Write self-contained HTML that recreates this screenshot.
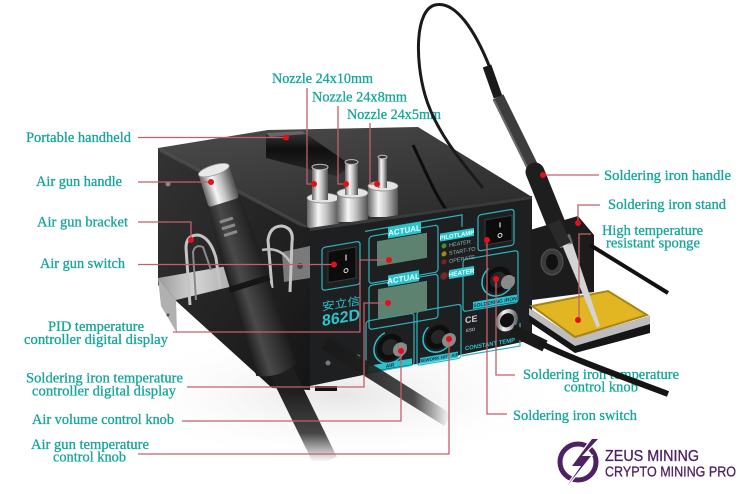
<!DOCTYPE html>
<html><head><meta charset="utf-8">
<style>
html,body{margin:0;padding:0;background:#fff;}
svg{display:block;}
.lb{font-family:"Liberation Serif",serif;font-size:14.5px;fill:#17a59a;stroke:#17a59a;stroke-width:0.3px;}
.ln{fill:none;stroke:#c4606a;stroke-width:1.3;}
.dt{fill:#e3101c;}
.pt{font-family:"Liberation Sans",sans-serif;font-weight:bold;}
</style></head><body>
<svg width="750" height="494" viewBox="0 0 750 494" xmlns="http://www.w3.org/2000/svg">
<defs>
 <linearGradient id="silver" x1="0" x2="1" y1="0" y2="0">
  <stop offset="0" stop-color="#666"/>
  <stop offset="0.35" stop-color="#f6f6f6"/>
  <stop offset="0.6" stop-color="#c4c4c4"/>
  <stop offset="1" stop-color="#505050"/>
 </linearGradient>
 <linearGradient id="topg" x1="0" y1="0" x2="0.6" y2="1">
  <stop offset="0" stop-color="#4c4c4c"/>
  <stop offset="1" stop-color="#2c2c2c"/>
 </linearGradient>
 <linearGradient id="groove" x1="0" y1="0" x2="0" y2="1">
  <stop offset="0" stop-color="#3a3a3a"/>
  <stop offset="0.4" stop-color="#0e0e0e"/>
  <stop offset="1" stop-color="#2a2a2a"/>
 </linearGradient>
 <linearGradient id="sideg" x1="0" y1="0" x2="1" y2="1">
  <stop offset="0" stop-color="#333"/>
  <stop offset="1" stop-color="#151515"/>
 </linearGradient>
 <linearGradient id="gunbody" x1="0" x2="1">
  <stop offset="0" stop-color="#1a1a1a"/>
  <stop offset="0.35" stop-color="#4a4a4a"/>
  <stop offset="1" stop-color="#1c1c1c"/>
 </linearGradient>
 <linearGradient id="cablefade" gradientUnits="userSpaceOnUse" x1="0" y1="390" x2="0" y2="462">
  <stop offset="0" stop-color="#1e1e1e"/>
  <stop offset="0.6" stop-color="#262626" stop-opacity="0.85"/>
  <stop offset="1" stop-color="#303030" stop-opacity="0"/>
 </linearGradient>
 <linearGradient id="bandfade" gradientUnits="userSpaceOnUse" x1="330" y1="0" x2="450" y2="0">
  <stop offset="0" stop-color="#1a1a1a"/>
  <stop offset="0.7" stop-color="#222" stop-opacity="0.8"/>
  <stop offset="1" stop-color="#333" stop-opacity="0"/>
 </linearGradient>
 <radialGradient id="floor" cx="0.5" cy="0.5" r="0.5">
  <stop offset="0" stop-color="#e6e6e6"/>
  <stop offset="1" stop-color="#ffffff" stop-opacity="0"/>
 </radialGradient>
 <linearGradient id="plate" x1="0" x2="1">
  <stop offset="0" stop-color="#9a9a9a"/>
  <stop offset="0.4" stop-color="#d4d4d4"/>
  <stop offset="1" stop-color="#9a9a9a"/>
 </linearGradient>
</defs>

<rect width="750" height="494" fill="#fff"/>
<ellipse cx="340" cy="395" rx="230" ry="70" fill="url(#floor)"/>

<!-- ===== Labels (left) ===== -->
<text class="lb" x="272" y="83" textLength="101" lengthAdjust="spacingAndGlyphs">Nozzle 24x10mm</text>
<text class="lb" x="312" y="101.5" textLength="95" lengthAdjust="spacingAndGlyphs">Nozzle 24x8mm</text>
<text class="lb" x="347" y="119" textLength="94" lengthAdjust="spacingAndGlyphs">Nozzle 24x5mm</text>
<text class="lb" x="26" y="142" textLength="105" lengthAdjust="spacingAndGlyphs">Portable handheld</text>
<text class="lb" x="36" y="186" textLength="86" lengthAdjust="spacingAndGlyphs">Air gun handle</text>
<text class="lb" x="37" y="226.5" textLength="91" lengthAdjust="spacingAndGlyphs">Air gun bracket</text>
<text class="lb" x="40" y="268" textLength="85" lengthAdjust="spacingAndGlyphs">Air gun switch</text>
<text class="lb" x="48" y="331" textLength="96" lengthAdjust="spacingAndGlyphs">PID temperature</text>
<text class="lb" x="24" y="344" textLength="144" lengthAdjust="spacingAndGlyphs">controller digital display</text>
<text class="lb" x="26" y="382.5" textLength="157" lengthAdjust="spacingAndGlyphs">Soldering iron temperature</text>
<text class="lb" x="32" y="395.5" textLength="144" lengthAdjust="spacingAndGlyphs">controller digital display</text>
<text class="lb" x="32" y="424" textLength="142" lengthAdjust="spacingAndGlyphs">Air volume control knob</text>
<text class="lb" x="31" y="449" textLength="118" lengthAdjust="spacingAndGlyphs">Air gun temperature</text>
<text class="lb" x="53" y="461.5" textLength="73" lengthAdjust="spacingAndGlyphs">control knob</text>

<!-- ===== Labels (right) ===== -->
<text class="lb" x="604" y="180" textLength="127" lengthAdjust="spacingAndGlyphs">Soldering iron handle</text>
<text class="lb" x="608" y="209" textLength="118" lengthAdjust="spacingAndGlyphs">Soldering iron stand</text>
<text class="lb" x="602" y="235" textLength="101" lengthAdjust="spacingAndGlyphs">High temperature</text>
<text class="lb" x="606" y="247.5" textLength="94" lengthAdjust="spacingAndGlyphs">resistant sponge</text>
<text class="lb" x="523" y="379" textLength="156" lengthAdjust="spacingAndGlyphs">Soldering iron temperature</text>
<text class="lb" x="564" y="391.5" textLength="74" lengthAdjust="spacingAndGlyphs">control knob</text>
<text class="lb" x="513" y="420" textLength="124" lengthAdjust="spacingAndGlyphs">Soldering iron switch</text>

<!-- ===== Device: side panel ===== -->
<polygon points="158,148 310,228 310,390 272,388 175,300 158,285" fill="url(#sideg)"/>
<circle cx="168" cy="184" r="2.5" fill="#888"/>
<!-- top face -->
<polygon points="158,148 268,130 418,127 532,197 310,228" fill="url(#topg)"/>
<polygon points="158,148 310,228 300,226 160,152" fill="#555" opacity="0.6"/>
<!-- handle groove -->
<polygon points="266,133 302,131 352,166 336,176 266,158" fill="url(#groove)"/>
<polygon points="266,133 302,131 306,134 270,137" fill="#666"/>
<!-- curved edge on top -->
<path d="M413,145 C425,170 435,195 448,212" fill="none" stroke="#0c0c0c" stroke-width="3"/>

<!-- mounting plate on side -->
<polygon points="282,252 310,246 310,278 284,282" fill="#7a7a7a"/>
<circle cx="300" cy="266" r="3" fill="#444"/>

<!-- base plate -->
<polygon points="158,278 250,262 250,282 176,300" fill="url(#plate)"/>
<polygon points="158,278 176,300 177,333 161,306" fill="#b0b0b0"/>
<circle cx="168" cy="315" r="1.5" fill="#555"/>

<!-- nozzles -->
<g>
 <rect x="307" y="198" width="32" height="30" rx="3" fill="url(#silver)"/>
 <ellipse cx="323" cy="198" rx="16" ry="5" fill="#e4e4e4" stroke="#888" stroke-width="0.8"/>
 <rect x="312" y="167" width="16" height="33" fill="url(#silver)"/>
 <ellipse cx="320" cy="167" rx="8" ry="2.8" fill="#333" stroke="#bbb" stroke-width="1"/>

 <rect x="337" y="193" width="31" height="29" rx="3" fill="url(#silver)"/>
 <ellipse cx="352.5" cy="193" rx="15.5" ry="5" fill="#e4e4e4" stroke="#888" stroke-width="0.8"/>
 <rect x="345" y="162" width="13" height="33" fill="url(#silver)"/>
 <ellipse cx="351.5" cy="162" rx="6.5" ry="2.4" fill="#333" stroke="#bbb" stroke-width="1"/>

 <rect x="368" y="186" width="30" height="31" rx="3" fill="url(#silver)"/>
 <ellipse cx="383" cy="186" rx="15" ry="5" fill="#e4e4e4" stroke="#888" stroke-width="0.8"/>
 <rect x="378" y="157" width="9" height="31" fill="url(#silver)"/>
 <ellipse cx="382.5" cy="157" rx="4.5" ry="1.8" fill="#333" stroke="#bbb" stroke-width="1"/>
</g>

<!-- front face -->
<polygon points="310,228 532,196 532,340 310,386" fill="#1d1f21"/>
<polygon points="310,228 532,196 532,199 310,231" fill="#3a3a3a"/>
<circle cx="328" cy="363" r="2.5" fill="#777"/>
<circle cx="358" cy="357" r="2.5" fill="#777"/>
<rect x="315" y="386" width="22" height="5" fill="#111"/>

<!-- panel (skewed) -->
<g transform="matrix(1,-0.17,0,1,0,71.4)">
 <g fill="none" stroke="#2fb4bd" stroke-width="1.2">
  <rect x="322" y="231" width="38" height="43" rx="3"/>
  <rect x="369" y="228" width="69" height="47" rx="3"/>
  <rect x="369" y="277" width="69" height="44" rx="3"/>
  <path d="M365,222 H462 V234"/>
  <rect x="366" y="312" width="48" height="52" rx="3"/>
  <rect x="417" y="311" width="44" height="54" rx="3"/>
  <rect x="478" y="225" width="36" height="36" rx="3"/>
  <rect x="463" y="267" width="55" height="52" rx="3"/>
  <path d="M462,363 H520 V340"/>
 </g>
 <rect x="328" y="236" width="28" height="31" fill="#0c0c0c" stroke="#3a3a3a"/>
 <line x1="346" y1="242" x2="346" y2="248" stroke="#ddd" stroke-width="1.2"/>
 <circle cx="346" cy="258" r="2" fill="none" stroke="#ddd" stroke-width="1"/>
 <rect x="377" y="234" width="50" height="25" fill="#5d8270"/>
 <rect x="378" y="282" width="49" height="30" fill="#5d8270"/>
 <rect x="388" y="222" width="33" height="11" fill="#2cc3cc"/>
 <text class="pt" x="404.5" y="230.5" font-size="8" text-anchor="middle" fill="#eaffff">ACTUAL</text>
 <rect x="388" y="270" width="31" height="11" fill="#2cc3cc"/>
 <text class="pt" x="403.5" y="278.5" font-size="8" text-anchor="middle" fill="#eaffff">ACTUAL</text>
 <rect x="440" y="237" width="34" height="8" fill="#2cc3cc"/>
 <text class="pt" x="457" y="243.5" font-size="6" text-anchor="middle" fill="#eaffff">PILOTLAMP</text>
 <circle cx="444" cy="250" r="2.5" fill="#4c8a3a"/>
 <circle cx="444" cy="258" r="2.5" fill="#a08a20"/>
 <circle cx="444" cy="266" r="2.5" fill="#802020"/>
 <g font-family="Liberation Sans,sans-serif" font-size="5.5" fill="#8fb0b0">
  <text x="449" y="252">HEATER</text>
  <text x="449" y="260">START-TO</text>
  <text x="449" y="268">OPERATE</text>
 </g>
 <circle cx="444" cy="280" r="3.5" fill="#8a2020" stroke="#333"/>
 <rect x="449" y="275" width="25" height="9" fill="#2cc3cc"/>
 <text class="pt" x="461.5" y="282" font-size="6.5" text-anchor="middle" fill="#eaffff">HEATER</text>
 <text x="322" y="294" font-family="Noto Sans CJK SC,sans-serif" font-size="11" fill="#2cc3cc" textLength="38" lengthAdjust="spacingAndGlyphs">安立信</text>
 <text class="pt" x="322" y="309.5" font-size="16" fill="#2cc3cc" textLength="38" lengthAdjust="spacingAndGlyphs">862D</text>
 <circle cx="390" cy="342" r="16" fill="none" stroke="#2cc3cc" stroke-width="1.5" stroke-dasharray="70 40"/>
 <circle cx="390" cy="342" r="13" fill="#0e0e0e"/>
 <circle cx="390" cy="342" r="8" fill="#262626"/>
 <circle cx="400" cy="346" r="7" fill="#8a8a8a"/>
 <rect x="368" y="357" width="44" height="6" fill="#2cc3cc"/>
 <text class="pt" x="390" y="362" font-size="5" text-anchor="middle" fill="#135">AIR</text>
 <circle cx="438" cy="340" r="15" fill="none" stroke="#2cc3cc" stroke-width="1.5" stroke-dasharray="60 40"/>
 <circle cx="438" cy="340" r="12" fill="#0e0e0e"/>
 <circle cx="438" cy="340" r="7" fill="#262626"/>
 <circle cx="449" cy="345" r="7" fill="#8a8a8a"/>
 <rect x="420" y="358" width="38" height="6" fill="#2cc3cc"/>
 <text class="pt" x="439" y="362.5" font-size="4.5" text-anchor="middle" fill="#135">REWORK HOT AIR</text>
 <text class="pt" x="465" y="331" font-size="9" fill="#cfcfcf">CE</text>
 <text class="pt" x="466" y="340" font-size="4.5" fill="#aaa">ESD</text>
 <text class="pt" x="465" y="358" font-size="6" fill="#2cc3cc" textLength="50" lengthAdjust="spacingAndGlyphs">CONSTANT TEMP</text>
 <rect x="485" y="231" width="27" height="25" fill="#0c0c0c" stroke="#3a3a3a"/>
 <line x1="500" y1="236" x2="500" y2="241" stroke="#ddd" stroke-width="1.2"/>
 <circle cx="500" cy="249" r="2" fill="none" stroke="#ddd" stroke-width="1"/>
 <circle cx="498" cy="293" r="16" fill="none" stroke="#2cc3cc" stroke-width="1.5" stroke-dasharray="65 40"/>
 <circle cx="498" cy="293" r="13" fill="#0e0e0e"/>
 <circle cx="498" cy="293" r="8" fill="#262626"/>
 <circle cx="508" cy="297" r="7" fill="#8a8a8a"/>
 <rect x="473" y="311" width="44" height="7" fill="#2cc3cc"/>
 <text class="pt" x="495" y="316.5" font-size="5" text-anchor="middle" fill="#135">SOLDERING IRON</text>
 <circle cx="507" cy="335" r="11" fill="url(#silver)"/>
 <circle cx="507" cy="335" r="7" fill="#111"/>
</g>

<!-- dark band under panel -->
<path d="M325,343 L448,420" fill="none" stroke="url(#bandfade)" stroke-width="14"/>

<!-- brackets (wire clips) -->
<path d="M190,305 L186,248 Q186,235 198,235 Q210,237 216,258 L220,288" fill="none" stroke="#c4c4c4" stroke-width="3"/>
<path d="M196,300 L193,252 Q195,244 203,247 L211,270" fill="none" stroke="#8a8a8a" stroke-width="2"/>
<path d="M272,288 L268,240 Q270,226 282,226 Q294,228 292,242 L290,292" fill="none" stroke="#c4c4c4" stroke-width="3"/>

<!-- air gun cable -->
<path d="M282,372 L326,462" fill="none" stroke="url(#cablefade)" stroke-width="24"/>

<!-- air gun -->
<g transform="translate(221,193) rotate(-17.4)">
 <path d="M-17,8 L17,8 C19,40 20,80 20,100 L21,185 Q0,195 -21,185 L-20,100 C-20,80 -19,40 -17,8 Z" fill="url(#gunbody)"/>
 <rect x="-21" y="92" width="42" height="6" fill="#161616"/>
 <rect x="-10" y="26" width="14" height="3" rx="1" fill="#8a8a8a"/>
 <rect x="-10" y="33" width="14" height="3" rx="1" fill="#8a8a8a"/>
 <rect x="-10" y="40" width="14" height="3" rx="1" fill="#8a8a8a"/>
 <rect x="-16" y="-24" width="32" height="34" rx="3" fill="url(#silver)"/>
 <ellipse cx="0" cy="-24" rx="16" ry="5" fill="#e8e8e8" stroke="#999" stroke-width="0.8"/>
</g>
<path d="M262,250 Q280,246 290,262" fill="none" stroke="#bdbdbd" stroke-width="2.5"/>

<!-- iron stand & tray -->
<polygon points="530,230 578,216 594,235 594,292 532,300" fill="#1c1c1c"/>
<ellipse cx="552" cy="262" rx="11" ry="13" fill="#3a3a3a" stroke="#555"/>
<ellipse cx="552" cy="262" rx="6" ry="8" fill="#111"/>
<polygon points="529,308 575,338 650,316 650,333 575,353 529,322" fill="#161616"/>
<polygon points="529,308 575,338 650,316 650,324 575,346 529,315" fill="#bdbdbd"/>
<polygon points="532,306 608,291 647,315 575,337" fill="#e2b522" stroke="#a88412" stroke-width="2"/>
<polygon points="560,240 570,236 600,326 597,328" fill="#d4d4d4"/>
<rect x="558" y="236" width="14" height="10" fill="url(#silver)" transform="rotate(-20 565 241)"/>

<!-- cables right -->
<path d="M590,245 L668,293" fill="none" stroke="#111" stroke-width="4"/>
<path d="M512,330 L545,346" fill="none" stroke="#1a1a1a" stroke-width="12"/>
<path d="M540,343 C570,358 615,374 668,394" fill="none" stroke="#151515" stroke-width="6"/>

<!-- iron cable -->
<path d="M490,68 C475,30 455,0 435,5 C415,10 415,60 425,95 C435,130 460,160 483,188" fill="none" stroke="#1a1a1a" stroke-width="3"/>
<!-- iron handle -->
<path d="M487,66 L498,97" stroke="#1a1a1a" stroke-width="9" fill="none"/>
<path d="M498,97 L535,172" stroke="#3d3d3d" stroke-width="12" fill="none"/>
<path d="M494,100 L530,173" stroke="#6a6a6a" stroke-width="2" fill="none"/>
<path d="M535,172 L556,224" stroke="#1e1e1e" stroke-width="19" stroke-linecap="round" fill="none"/>
<path d="M554,222 L565,245" stroke="#2a2a2a" stroke-width="13" fill="none"/>

<!-- ===== Leader lines ===== -->
<path class="ln" d="M307,88 V184 H314"/>
<path class="ln" d="M338,106 V184 H346"/>
<path class="ln" d="M370,123 V184 H377"/>
<path class="ln" d="M138,137.5 H286"/>
<path class="ln" d="M138,182 H211"/>
<path class="ln" d="M138,222 H191 V240"/>
<path class="ln" d="M138,264.5 H334"/>
<path class="ln" d="M173,332 H360 V260 H389"/>
<path class="ln" d="M187,387 H364 V303 H388"/>
<path class="ln" d="M182,421 H401 V351"/>
<path class="ln" d="M138,454 H449 V339"/>
<path class="ln" d="M543,175 H599"/>
<path class="ln" d="M600,205 H578 V223"/>
<path class="ln" d="M591,234 H579 V320"/>
<path class="ln" d="M496,279 V375 H515"/>
<path class="ln" d="M487,240 V414 H507"/>

<g class="dt">
 <circle cx="314" cy="184" r="3"/>
 <circle cx="346" cy="184" r="3"/>
 <circle cx="377" cy="184" r="3"/>
 <circle cx="286" cy="137.5" r="3"/>
 <circle cx="211" cy="182" r="3"/>
 <circle cx="191" cy="240" r="3"/>
 <circle cx="334" cy="264.5" r="3"/>
 <circle cx="389" cy="260" r="3"/>
 <circle cx="388" cy="303" r="3"/>
 <circle cx="401" cy="351" r="3"/>
 <circle cx="449" cy="339" r="3"/>
 <circle cx="543" cy="175" r="3"/>
 <circle cx="578" cy="223" r="3"/>
 <circle cx="578" cy="320" r="3"/>
 <circle cx="496" cy="279" r="3"/>
 <circle cx="487" cy="240" r="3"/>
</g>

<!-- ===== Logo ===== -->
<circle cx="578" cy="462" r="18" fill="none" stroke="#4d2162" stroke-width="5"/>
<path d="M592,439 L572,466 L581,466 L567,486 L591,456 L582,456 L598,439 Z" fill="#4d2162" stroke="#fff" stroke-width="2.5" paint-order="stroke"/>
<text x="605" y="461" font-family="Liberation Sans,sans-serif" font-size="15.5" fill="#4d2162" stroke="#4d2162" stroke-width="0.3" textLength="94" lengthAdjust="spacingAndGlyphs">ZEUS MINING</text>
<text x="605" y="476.5" font-family="Liberation Sans,sans-serif" font-size="15" fill="#4d2162" stroke="#4d2162" stroke-width="0.3" textLength="131" lengthAdjust="spacingAndGlyphs">CRYPTO MINING PRO</text>
</svg>
</body></html>
